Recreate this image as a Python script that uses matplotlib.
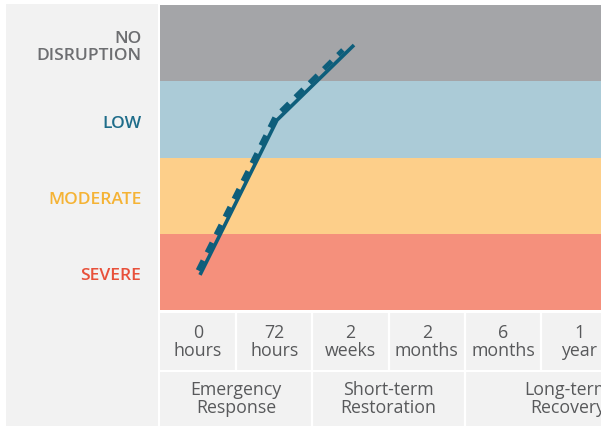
import matplotlib
matplotlib.use("Agg")
import matplotlib.pyplot as plt
from matplotlib.patches import Rectangle

# ---- data ----
levels = ["SEVERE", "MODERATE", "LOW", "NO\nDISRUPTION"]
level_colors = ["#f5907c", "#fdcf8a", "#abcbd7", "#a4a5a8"]
label_colors = ["#e8503a", "#f5b335", "#1f6d8a", "#6d6e71"]

time_labels = ["0\nhours", "72\nhours", "2\nweeks", "2\nmonths", "6\nmonths", "1\nyear"]
phase_names = ["Emergency\nResponse", "Short-term\nRestoration", "Long-term\nRecovery"]
phase_bounds = [(0, 2), (2, 4), (4, 6.7)]

# recovery path (x in time cells, y in disruption bands)
solid_x = [0.525, 1.535, 2.546]
solid_y = [0.46, 2.49, 3.475]
dash_x = [0.50, 1.51, 2.40]
dash_y = [0.52, 2.53, 3.41]

W, H = 601, 426
LINE = "#0e5e7b"
TXT = "#58595b"
FS = 12.8


def box(l, t, r, b):
    return [l / W, 1 - b / H, (r - l) / W, (b - t) / H]


plt.rcParams["font.family"] = ["Open Sans", "DejaVu Sans"]
fig = plt.figure(figsize=(W / 100, H / 100), dpi=100, facecolor="white")

# left grey panel
fig.patches.append(Rectangle((6 / W, 0), (158 - 6) / W, 1 - 4 / H,
                             transform=fig.transFigure, facecolor="#f2f2f2",
                             edgecolor="none", zorder=-10))

xmax = (W - 160) / 76.2

# ---- bands + line ----
ax = fig.add_axes(box(160, 5, W, 310))
for i, c in enumerate(level_colors):
    ax.axhspan(i, i + 1, color=c, lw=0)
ax.plot(solid_x, solid_y, color=LINE, lw=2.6, solid_capstyle="butt", zorder=3)
ax.plot(dash_x, dash_y, color=LINE, lw=3.6, dashes=(2.2, 1.8),
        dash_capstyle="butt", zorder=3)
ax.set_xlim(0, xmax)
ax.set_ylim(0, 4)
ax.set_xticks([]); ax.set_yticks([])
for i, (lab, c) in enumerate(zip(levels, label_colors)):
    ax.annotate(lab, xy=(0, i + 0.5), xycoords=("axes fraction", "data"),
                xytext=(-13.5, -3), textcoords="offset points", ha="right",
                va="center", color=c, fontsize=12.6, fontweight="semibold",
                linespacing=1.05, multialignment="right")
for s in ax.spines.values():
    s.set_visible(False)

# ---- time cells ----
ax2 = fig.add_axes(box(160, 313, W, 370), facecolor="#f2f2f2")
ax2.set_xlim(0, xmax)
ax2.set_ylim(0, 1)
for i in range(1, len(time_labels)):
    ax2.axvline(i, color="white", lw=1.6)
for i, lab in enumerate(time_labels):
    ax2.text(i + 0.5, 0.5, lab, ha="center", va="center", color=TXT,
             fontsize=FS, linespacing=1.0)
ax2.set_xticks([]); ax2.set_yticks([])
for s in ax2.spines.values():
    s.set_visible(False)

# ---- phases ----
ax3 = fig.add_axes(box(160, 372, W, H), facecolor="#f2f2f2")
ax3.set_xlim(0, xmax)
ax3.set_ylim(0, 1)
for (a, b), name in zip(phase_bounds, phase_names):
    if a > 0:
        ax3.axvline(a, color="white", lw=1.6)
    ax3.text((a + b) / 2, 0.5, name, ha="center", va="center", color=TXT,
             fontsize=FS, linespacing=1.0, clip_on=False)
ax3.set_xticks([]); ax3.set_yticks([])
for s in ax3.spines.values():
    s.set_visible(False)

fig.savefig("out.png", dpi=100, facecolor="white")
